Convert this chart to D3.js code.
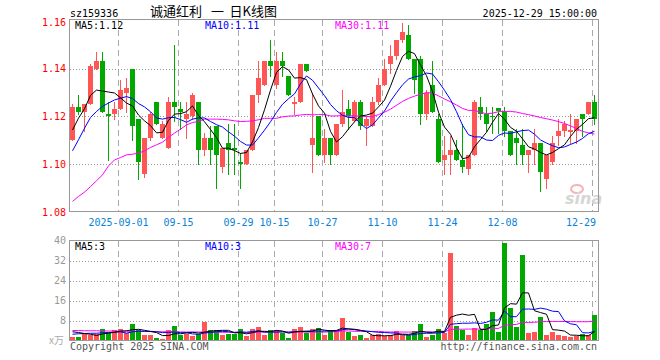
<!DOCTYPE html>
<html>
<head>
<meta charset="utf-8">
<script src="https://cdn.jsdelivr.net/npm/d3@7"></script>
<style>
  body { margin: 0; background: #fff; }
  text { font-family: "DejaVu Sans Mono", monospace; font-size: 10px; }
</style>
</head>
<body>
<div id="chart"></div>
<script>
// daily bars 2025-08-20 .. 2025-12-29 (88 trading days)
const openP = [1.110,1.124,1.122,1.125,1.140,1.143,1.121,1.121,1.123,1.130,
  1.140,1.119,1.096,1.111,1.126,1.111,1.107,1.126,1.123,1.119,
  1.120,1.126,1.106,1.111,1.116,1.099,1.109,1.107,1.101,1.100,
  1.106,1.129,1.133,1.143,1.133,1.143,1.137,1.125,1.126,1.142,
  1.108,1.120,1.104,1.111,1.104,1.117,1.123,1.118,1.126,1.116,
  1.116,1.126,1.133,1.142,1.145,1.152,1.154,1.144,1.144,1.121,
  1.133,1.119,1.102,1.104,1.106,1.102,1.098,1.104,1.124,1.121,
  1.1204,1.1235,1.122,1.114,1.111,1.108,1.104,1.106,1.109,1.094,
  1.101,1.112,1.114,1.1135,1.114,1.121,1.121,1.126];
const highP = [1.125,1.129,1.125,1.142,1.147,1.147,1.126,1.126,1.135,1.136,
  1.140,1.119,1.111,1.122,1.126,1.118,1.128,1.150,1.126,1.126,
  1.130,1.126,1.113,1.116,1.116,1.107,1.117,1.117,1.105,1.106,
  1.129,1.143,1.143,1.152,1.147,1.147,1.137,1.128,1.142,1.142,
  1.130,1.120,1.115,1.111,1.117,1.131,1.127,1.127,1.127,1.120,
  1.128,1.136,1.144,1.150,1.152,1.159,1.158,1.144,1.145,1.131,
  1.143,1.121,1.112,1.112,1.110,1.117,1.104,1.127,1.128,1.124,
  1.124,1.1235,1.124,1.114,1.115,1.115,1.106,1.115,1.109,1.104,
  1.112,1.119,1.118,1.121,1.119,1.121,1.126,1.129];
const lowP = [1.110,1.121,1.114,1.125,1.140,1.122,1.102,1.119,1.123,1.122,
  1.110,1.094,1.095,1.110,1.117,1.111,1.107,1.118,1.115,1.111,
  1.119,1.100,1.104,1.100,1.090,1.097,1.096,1.096,1.090,1.100,
  1.106,1.126,1.133,1.137,1.132,1.137,1.129,1.121,1.126,1.139,
  1.097,1.104,1.101,1.100,1.104,1.116,1.115,1.118,1.115,1.108,
  1.116,1.125,1.133,1.138,1.144,1.151,1.144,1.130,1.117,1.119,
  1.122,1.101,1.096,1.096,1.102,1.097,1.096,1.104,1.119,1.114,
  1.113,1.113,1.112,1.104,1.100,1.100,1.097,1.100,1.089,1.090,
  1.100,1.108,1.112,1.109,1.109,1.112,1.121,1.117];
const closeP = [1.124,1.122,1.125,1.141,1.143,1.122,1.120,1.123,1.131,1.132,
  1.116,1.101,1.111,1.121,1.117,1.117,1.126,1.124,1.122,1.121,
  1.129,1.106,1.111,1.106,1.104,1.107,1.106,1.106,1.100,1.106,
  1.129,1.136,1.143,1.141,1.143,1.141,1.129,1.126,1.142,1.139,
  1.111,1.104,1.111,1.104,1.117,1.122,1.120,1.126,1.116,1.119,
  1.126,1.133,1.140,1.145,1.152,1.155,1.144,1.135,1.121,1.130,
  1.122,1.101,1.104,1.106,1.102,1.099,1.104,1.126,1.121,1.117,
  1.1199,1.1224,1.114,1.104,1.109,1.104,1.106,1.109,1.097,1.104,
  1.109,1.114,1.117,1.1145,1.119,1.119,1.126,1.119];
// volume, 万手
const volume = [1.5,1.5,2.5,2.1,2.5,4.5,3.2,4.1,4.5,3.2,
  6.5,4.1,2.1,2.1,1.1,0.5,4.1,5.7,2.1,2.8,
  1.7,2.5,7.5,4.1,4.1,2.1,2.5,2.5,4.5,1.7,
  4.5,5.5,2.1,4.1,4.1,3.2,1.1,4.5,5.5,3.2,
  4.5,5.1,2.4,4.1,4.1,9.1,3.5,1.7,2.1,1.1,
  2.1,2.5,1.7,2.4,3.7,2.4,2.1,3.7,6.8,1.5,
  2.1,4.5,3.2,35.1,5.7,4.4,2.1,5.1,4.4,6.5,
  11.5,3.5,39.1,13.1,5.5,34.3,3.1,3.5,9.5,2.1,
  3.5,2.1,1.7,1.5,1.7,2.5,2.1,10.1];

// moving averages need days before the window: first values
const ma5Head = [1.1144,1.1193,1.1232,1.1288];
const ma10Head = [1.1057,1.1103,1.1151,1.1196,1.1221,1.1242,1.1256,1.1269,1.1276];
const ma30Head = [1.0846,1.0867,1.0885,1.0908,1.0932,1.0957,1.0994,1.1019,1.1029,1.104,
  1.1043,1.1047,1.1057,1.1071,1.1082,1.1093,1.1113,1.1131,1.1147,1.1165,
  1.1175,1.1179,1.1189,1.1189,1.1189,1.1188,1.1186,1.1182,1.1179];
const vma5Head = [3.5,3.2,2.8,2.5];
const vma10Head = [2.5,2.7,2.8,2.9,2.9,3.1,3.2,3.3,3.5];
const vma30Head = [4.0,4.0,3.9,3.9,3.9,3.8,3.8,3.8,3.7,3.7,3.7,3.6,3.6,3.6,3.5,
  3.5,3.5,3.5,3.4,3.4,3.4,3.4,3.4,3.3,3.3,3.3,3.3,3.3,3.3];

const tickIdx = [8, 18, 28, 34, 42, 52, 62, 72, 87];
const tickLabels = ["2025-09-01","09-15","09-29","10-15","10-27","11-10","11-24","12-08","12-29"];
const priceTicks = [1.16, 1.14, 1.12, 1.10, 1.08];
const volTicks = [40, 32, 24, 16, 8];

const RED = "#ff5555", GREEN = "#00a800";
const left = 70, right = 598;
const n = closeP.length;

const movingAvg = (vals, len, head) =>
  vals.map((v, i) => (i < len - 1 ? head[i] : d3.mean(vals.slice(i - len + 1, i + 1))));

const ma5 = movingAvg(closeP, 5, ma5Head);
const ma10 = movingAvg(closeP, 10, ma10Head);
const ma30 = movingAvg(closeP, 30, ma30Head);
const vma5 = movingAvg(volume, 5, vma5Head);
const vma10 = movingAvg(volume, 10, vma10Head);
const vma30 = movingAvg(volume, 30, vma30Head);

const svg = d3.select("#chart").append("svg").attr("width", 660).attr("height", 360);

const x = d3.scaleLinear().domain([0, n]).range([left, right]);
const y = d3.scaleLinear().domain([1.08, 1.16]).range([212.5, 20.5]);
const yv = d3.scaleLinear().domain([0, 40]).range([340.5, 240.5]);

const isUp = (i) => closeP[i] >= openP[i];

// header
svg.append("text").attr("x", 70).attr("y", 16.5).text("sz159336");
svg.append("text").attr("x", 597).attr("y", 16.5).attr("text-anchor", "end").text("2025-12-29 15:00:00");
const title = svg.append("g").style("font-family", "'Noto Sans CJK SC'").style("font-size", "13px");
title.append("text").attr("x", 150).attr("y", 16).style("font-family", "inherit").style("font-size", "inherit").text("诚通红利");
title.append("text").attr("x", 211).attr("y", 16).style("font-family", "inherit").style("font-size", "inherit").text("一");
title.append("text").attr("x", 229.5).attr("y", 16).style("font-family", "inherit").style("font-size", "inherit").text("日K线图");

// grid for both panels
const drawGrid = (top, bottom, hTicks, scale) => {
  svg.append("g").selectAll("line").data(hTicks).enter().append("line")
    .attr("x1", left).attr("x2", right)
    .attr("y1", (d) => Math.round(scale(d)) + 0.5).attr("y2", (d) => Math.round(scale(d)) + 0.5)
    .attr("stroke", "#999").attr("stroke-dasharray", "1,2");
  svg.append("g").selectAll("line").data(tickIdx).enter().append("line")
    .attr("x1", (d) => x(d) + 0.5).attr("x2", (d) => x(d) + 0.5)
    .attr("y1", top).attr("y2", bottom)
    .attr("stroke", "#aaa").attr("stroke-dasharray", "6,4");
};
drawGrid(20, 211, [1.14, 1.12, 1.10], y);
drawGrid(241, 340, [32, 24, 16, 8], yv);

// sina watermark
svg.append("ellipse").attr("cx", 577).attr("cy", 189).attr("rx", 6).attr("ry", 4)
  .attr("fill", "none").attr("stroke", "#f3b5b5").attr("stroke-width", 2);
svg.append("text").attr("x", 565).attr("y", 204)
  .style("font-family", "'DejaVu Sans'").style("font-size", "16px")
  .style("font-weight", "bold").style("font-style", "italic")
  .attr("fill", "#d6d6d6").text("sina");

// candles
const candles = svg.append("g");
candles.selectAll("line").data(d3.range(n)).enter().append("line")
  .attr("x1", (i) => x(i) + 2.5).attr("x2", (i) => x(i) + 2.5)
  .attr("y1", (i) => Math.round(y(highP[i]))).attr("y2", (i) => Math.round(y(lowP[i])) + 1)
  .attr("stroke", (i) => (isUp(i) ? RED : GREEN));
candles.selectAll("rect").data(d3.range(n)).enter().append("rect")
  .attr("x", (i) => x(i))
  .attr("width", 5)
  .attr("y", (i) => Math.round(y(Math.max(openP[i], closeP[i]))))
  .attr("height", (i) => Math.max(1, Math.round(y(Math.min(openP[i], closeP[i]))) - Math.round(y(Math.max(openP[i], closeP[i])))))
  .attr("fill", (i) => (isUp(i) ? RED : GREEN));

// volume bars
svg.append("g").selectAll("rect").data(d3.range(n)).enter().append("rect")
  .attr("x", (i) => x(i))
  .attr("width", 5)
  .attr("y", (i) => Math.round(yv(volume[i])))
  .attr("height", (i) => 340 - Math.round(yv(volume[i])))
  .attr("fill", (i) => (isUp(i) ? RED : GREEN));

// average lines
const drawLine = (vals, scale, color) => {
  svg.append("path")
    .datum(vals)
    .attr("fill", "none")
    .attr("stroke", color)
    .attr("stroke-width", 1)
    .attr("d", d3.line().x((d, i) => x(i) + 2.5).y((d) => scale(d)));
};
drawLine(ma30, y, "#ff00ff");
drawLine(ma10, y, "#0000ff");
drawLine(ma5, y, "#000000");
drawLine(vma30, yv, "#ff00ff");
drawLine(vma10, yv, "#0000ff");
drawLine(vma5, yv, "#000000");

// frames
svg.append("rect").attr("x", 69.5).attr("y", 19.5).attr("width", 529).attr("height", 192)
  .attr("fill", "none").attr("stroke", "#999");
svg.append("rect").attr("x", 69.5).attr("y", 240.5).attr("width", 529).attr("height", 100)
  .attr("fill", "none").attr("stroke", "#999");

// y labels
svg.append("g").selectAll("text").data(priceTicks).enter().append("text")
  .attr("x", 66).attr("text-anchor", "end")
  .attr("y", (d) => Math.max(26, y(d) + 3.5))
  .attr("fill", "#ff0000").text((d) => d.toFixed(2));
svg.append("g").selectAll("text").data(volTicks).enter().append("text")
  .attr("x", 66).attr("text-anchor", "end")
  .attr("y", (d) => yv(d) + 3)
  .attr("fill", "#999").text((d) => d);
svg.append("text").attr("x", 49).attr("y", 343.5).attr("fill", "#aaa")
  .style("font-family", "'Noto Sans CJK SC'").text("x万");

// date labels
svg.append("g").selectAll("text").data(tickIdx).enter().append("text")
  .attr("x", (d, i) => (i === tickIdx.length - 1 ? 596 : x(d) + 0.5))
  .attr("y", 226)
  .attr("text-anchor", (d, i) => (i === tickIdx.length - 1 ? "end" : "middle"))
  .attr("fill", "#0a82d8")
  .text((d, i) => tickLabels[i]);

// legends
const legend = (yPos, items) => {
  items.forEach(([label, val, color, xPos]) => {
    svg.append("text").attr("x", xPos).attr("y", yPos).attr("fill", color).text(label + ":" + val);
  });
};
legend(29, [
  ["MA5", ma5[n - 1].toFixed(2), "#000", 75],
  ["MA10", ma10[n - 1].toFixed(2), "#0000ff", 205],
  ["MA30", ma30[n - 1].toFixed(2), "#ff00ff", 335],
]);
legend(249.5, [
  ["MA5", Math.floor(vma5[n - 1]), "#000", 75],
  ["MA10", Math.floor(vma10[n - 1]), "#0000ff", 205],
  ["MA30", Math.floor(vma30[n - 1]), "#ff00ff", 335],
]);

// footer
svg.append("text").attr("x", 70).attr("y", 349.5).attr("fill", "#555").text("Copyright 2025 SINA.COM");
svg.append("text").attr("x", 597).attr("y", 349.5).attr("text-anchor", "end").attr("fill", "#555").text("http://finance.sina.com.cn");
</script>
</body>
</html>
